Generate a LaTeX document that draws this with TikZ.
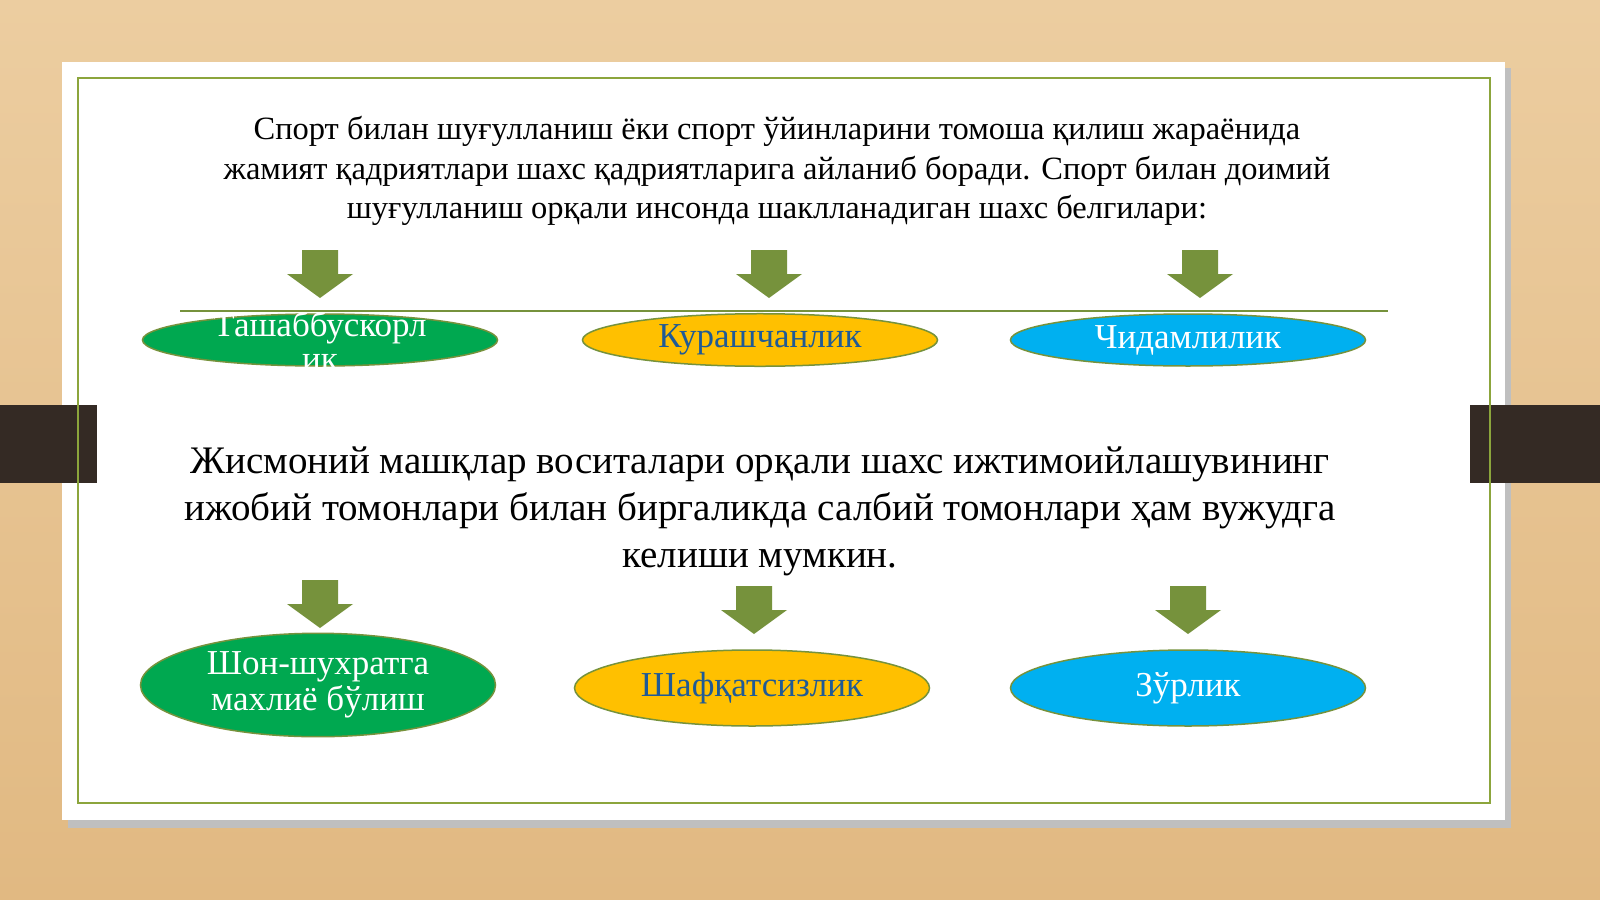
\documentclass[tikz,border=0pt]{standalone}
\usepackage{fontspec}
\setmainfont{Liberation Serif}
\usetikzlibrary{shapes.geometric,shadows}
\definecolor{olive}{RGB}{118,146,60}
\definecolor{frame}{RGB}{140,165,60}
\definecolor{eg}{RGB}{0,168,80}
\definecolor{ey}{RGB}{255,192,0}
\definecolor{eb}{RGB}{0,176,240}
\definecolor{tb}{RGB}{31,90,150}
\definecolor{wood}{RGB}{236,205,160}
\definecolor{woodd}{RGB}{225,185,130}
\definecolor{tab}{RGB}{52,42,36}
\tikzset{
 arr/.style={fill=olive,draw=none},
 ell/.style={ellipse,draw=olive,line width=1.5pt,minimum width=355pt,align=center,font=\fontsize{35}{36}\selectfont},
}
\newcommand{\dnarrow}[3]{% x, ytop, ybottom
 \fill[arr] (#1-18,#2) -- (#1+18,#2) -- (#1+18,#2+24) -- (#1+33,#2+24) -- (#1,#3) -- (#1-33,#2+24) -- (#1-18,#2+24) -- cycle;}
\begin{document}
\begin{tikzpicture}[x=1pt,y=-1pt]
\useasboundingbox (0,0) rectangle (1600,899);
\shade[top color=wood,bottom color=woodd] (0,0) rectangle (1600,899);
\fill[black!25] (68,68) rectangle (1511,828);
\fill[white] (62,62) rectangle (1505,820);
\fill[tab] (0,405) rectangle (97,483);
\fill[tab] (1470,405) rectangle (1600,483);
\draw[frame,line width=1.5pt] (78,78) rectangle (1490,803);
\node[font=\fontsize{32.5}{39.5}\selectfont,align=center] (t1) at (777,171)
 {Спорт билан шуғулланиш ёки спорт ўйинларини томоша қилиш жараёнида\\
 жамият қадриятлари шахс қадриятларига айланиб боради. Спорт билан доимий\\
 шуғулланиш орқали инсонда шаклланадиган шахс белгилари:};
\dnarrow{320}{250}{298}
\dnarrow{769}{250}{298}
\dnarrow{1200}{250}{298}
\node[ell,fill=eg,minimum height=52pt,text=white] (e1) at (320,340) {};
\begin{scope}
\clip (0,300) rectangle (1600,378);
\node[font=\fontsize{35}{34}\selectfont,text=white,align=center] at (320,341) {Ташаббускорл\\ик};
\end{scope}
\node[ell,fill=ey,minimum height=52pt,text=tb] (e2) at (760,340) {Курашчанлик};
\node[ell,fill=eb,minimum height=52pt,text=white] (e3) at (1188,340) {Чидамлилик};
\draw[olive,line width=1.5pt] (180,311) -- (1388,311);
\node[font=\fontsize{39}{47}\selectfont,align=center] (t2) at (760,511)
 {Жисмоний машқлар воситалари орқали шахс ижтимоийлашувининг\\
 ижобий томонлари билан биргаликда салбий томонлари ҳам вужудга\\
 келиши мумкин.};
\dnarrow{320}{580}{628}
\dnarrow{754}{586}{634}
\dnarrow{1188}{586}{634}
\node[ell,fill=eg,minimum height=80pt,text=white] (f1) at (318,685) {Шон-шухратга\\махлиё бўлиш};
\node[ell,fill=ey,minimum height=76pt,text=tb] (f2) at (752,688) {Шафқатсизлик};
\node[ell,fill=eb,minimum height=76pt,text=white] (f3) at (1188,688) {Зўрлик};
\end{tikzpicture}
\end{document}
